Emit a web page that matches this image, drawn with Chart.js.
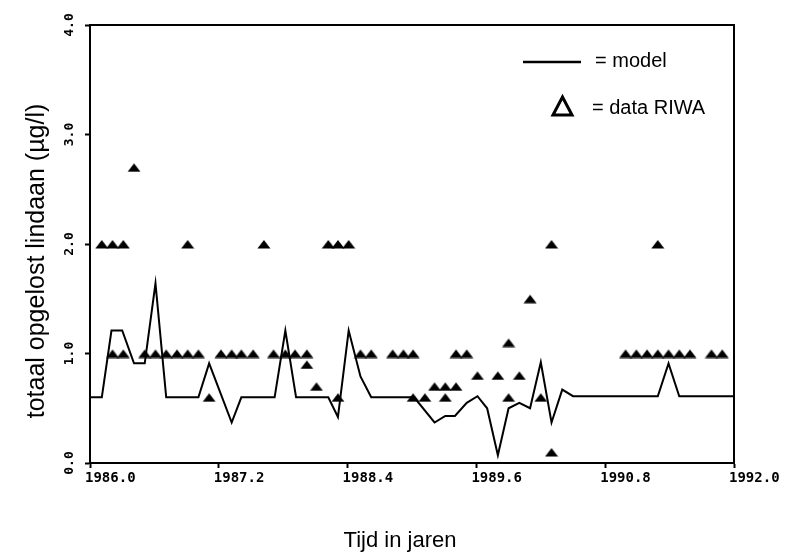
<!DOCTYPE html>
<html>
<head>
<meta charset="utf-8">
<script src="https://cdn.jsdelivr.net/npm/chart.js@4/dist/chart.umd.min.js"></script>
<style>
  html, body { margin: 0; padding: 0; background: #fff; }
  #chart { display: block; }
</style>
</head>
<body>
<canvas id="chart" width="785" height="556"></canvas>
<script>
// model (lijn)
const modelYears = [1986.0, 1986.11, 1986.2, 1986.3, 1986.41, 1986.51, 1986.61, 1986.71, 1987.01, 1987.11,
  1987.32, 1987.41, 1987.72, 1987.82, 1987.92, 1988.22, 1988.31, 1988.41, 1988.52, 1988.62,
  1989.02, 1989.21, 1989.31, 1989.4, 1989.51, 1989.61, 1989.7, 1989.8, 1989.9, 1990.0,
  1990.1, 1990.2, 1990.3, 1990.4, 1990.5, 1991.29, 1991.39, 1991.49, 1992.0];
const modelValues = [0.6, 0.6, 1.21, 1.21, 0.91, 0.91, 1.64, 0.6, 0.6, 0.91,
  0.37, 0.6, 0.6, 1.21, 0.6, 0.6, 0.42, 1.21, 0.79, 0.6,
  0.6, 0.37, 0.43, 0.43, 0.55, 0.61, 0.5, 0.07, 0.5, 0.55,
  0.5, 0.92, 0.37, 0.67, 0.61, 0.61, 0.91, 0.61, 0.61];

// data RIWA (driehoekjes)
const riwaYears = [1986.11, 1986.21, 1986.21, 1986.31, 1986.31, 1986.41, 1986.51, 1986.61, 1986.71, 1986.81,
  1986.91, 1986.91, 1987.01, 1987.11, 1987.22, 1987.32, 1987.41, 1987.52, 1987.62, 1987.71,
  1987.82, 1987.91, 1988.02, 1988.02, 1988.11, 1988.22, 1988.31, 1988.31, 1988.41, 1988.52,
  1988.62, 1988.82, 1988.92, 1989.01, 1989.01, 1989.12, 1989.21, 1989.31, 1989.31, 1989.41,
  1989.41, 1989.51, 1989.61, 1989.8, 1989.9, 1989.9, 1990.0, 1990.1, 1990.2, 1990.3,
  1990.3, 1990.99, 1991.09, 1991.19, 1991.29, 1991.29, 1991.39, 1991.49, 1991.59, 1991.79,
  1991.89];
const riwaValues = [2.0, 2.0, 1.0, 2.0, 1.0, 2.7, 1.0, 1.0, 1.0, 1.0,
  2.0, 1.0, 1.0, 0.6, 1.0, 1.0, 1.0, 1.0, 2.0, 1.0,
  1.0, 1.0, 1.0, 0.9, 0.7, 2.0, 2.0, 0.6, 2.0, 1.0,
  1.0, 1.0, 1.0, 1.0, 0.6, 0.6, 0.7, 0.7, 0.6, 0.7,
  1.0, 1.0, 0.8, 0.8, 1.1, 0.6, 0.8, 1.5, 0.6, 2.0,
  0.1, 1.0, 1.0, 1.0, 2.0, 1.0, 1.0, 1.0, 1.0, 1.0,
  1.0];

// as-instellingen
const xMin = 1986.0, xMax = 1992.0, xStep = 1.2;
const yMin = 0, yMax = 4, yStep = 1;
const xTitle = 'Tijd in jaren';
const yTitle = 'totaal opgelost lindaan (µg/l)';
const legendModel = '= model';
const legendData = '= data RIWA';

// gevuld driehoekje als puntstijl
const tri = document.createElement('canvas');
tri.width = 14;
tri.height = 10;
const tctx = tri.getContext('2d');
tctx.fillStyle = '#000';
tctx.beginPath();
tctx.moveTo(0.5, 9.5);
tctx.lineTo(7, 1);
tctx.lineTo(13.5, 9.5);
tctx.closePath();
tctx.fill();

const framePlugin = {
  id: 'frame',
  afterDatasetsDraw(chart) {
    const { ctx, chartArea: a } = chart;
    ctx.save();
    ctx.strokeStyle = '#000';
    ctx.lineWidth = 2;
    ctx.strokeRect(a.left, a.top, a.right - a.left, a.bottom - a.top);
    ctx.restore();
  }
};

// astitels en legenda zelf tekenen (staan in het origineel niet precies in het midden)
const textPlugin = {
  id: 'ownText',
  afterDraw(chart) {
    const ctx = chart.ctx;
    ctx.save();
    ctx.fillStyle = '#000';
    ctx.strokeStyle = '#000';
    ctx.textBaseline = 'middle';

    ctx.font = '22px "Liberation Sans", Arial, sans-serif';
    ctx.textAlign = 'center';
    ctx.fillText(xTitle, 400, 541);

    ctx.save();
    ctx.translate(37, 261);
    ctx.rotate(-Math.PI / 2);
    ctx.font = '25px "Liberation Sans", Arial, sans-serif';
    ctx.fillText(yTitle, 0, 0);
    ctx.restore();

    ctx.font = '20px "Liberation Sans", Arial, sans-serif';
    ctx.textAlign = 'left';
    // model
    ctx.lineWidth = 2.5;
    ctx.beginPath();
    ctx.moveTo(523, 62);
    ctx.lineTo(581, 62);
    ctx.stroke();
    ctx.fillText(legendModel, 595, 61);
    // data RIWA
    ctx.lineWidth = 3;
    ctx.beginPath();
    ctx.moveTo(553, 115);
    ctx.lineTo(562.5, 97);
    ctx.lineTo(572, 115);
    ctx.closePath();
    ctx.stroke();
    ctx.fillText(legendData, 592, 108);
    ctx.restore();
  }
};

const tickFont = { family: '"DejaVu Sans Mono", monospace', weight: 'bold' };

new Chart(document.getElementById('chart'), {
  type: 'scatter',
  data: {
    datasets: [{
      label: 'data RIWA',
      data: riwaYears.map((x, i) => ({ x: x, y: riwaValues[i] })),
      pointStyle: tri,
      pointRadius: 7,
      showLine: false
    }, {
      label: 'model',
      type: 'line',
      data: modelYears.map((x, i) => ({ x: x, y: modelValues[i] })),
      borderColor: '#000',
      borderWidth: 2,
      pointRadius: 0,
      tension: 0,
      fill: false
    }]
  },
  options: {
    responsive: false,
    animation: false,
    layout: { padding: { left: 22, top: 25, right: 51, bottom: 0 } },
    plugins: {
      legend: { display: false },
      tooltip: { enabled: false }
    },
    scales: {
      x: {
        type: 'linear',
        min: xMin,
        max: xMax,
        afterFit: s => { s.height = 556 - 463; s.paddingLeft = 0; s.paddingRight = 0; },
        border: { display: true, color: '#000', width: 2 },
        grid: { drawOnChartArea: false, tickLength: 5, tickColor: '#000', tickWidth: 2 },
        ticks: {
          stepSize: xStep,
          color: '#000',
          font: { ...tickFont, size: 14 },
          align: 'start',
          labelOffset: -5,
          padding: 2,
          maxRotation: 0,
          callback: v => v.toFixed(1)
        }
      },
      y: {
        min: yMin,
        max: yMax,
        afterFit: s => { s.width = 90 - 22; s.paddingTop = 0; s.paddingBottom = 0; },
        border: { display: true, color: '#000', width: 2 },
        grid: { drawOnChartArea: false, tickLength: 5, tickColor: '#000', tickWidth: 2 },
        ticks: {
          stepSize: yStep,
          color: '#000',
          font: { ...tickFont, size: 13 },
          minRotation: 90,
          maxRotation: 90,
          crossAlign: 'center',
          padding: 4,
          callback: v => v.toFixed(1)
        }
      }
    }
  },
  plugins: [framePlugin, textPlugin]
});
</script>
</body>
</html>
